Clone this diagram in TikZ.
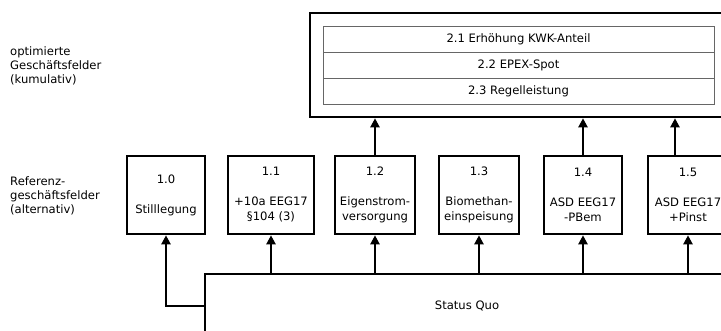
\documentclass[tikz,border=0pt]{standalone}
\usepackage{fontspec}
\setmainfont{DejaVu Sans}
\usetikzlibrary{arrows.meta}
\begin{document}
\begin{tikzpicture}[x=1pt,y=-1pt,
  every node/.style={font=\fontsize{11.6}{15}\selectfont},
  refbox/.style={draw, line width=2.6pt, minimum height=78pt, inner sep=0pt, align=center},
  optbox/.style={draw, line width=2.6pt, inner sep=0pt},
  rowbox/.style={draw=black!60, line width=1pt, minimum width=391pt, minimum height=26pt, inner sep=0pt},
  sqbox/.style={draw, line width=2.6pt, inner sep=0pt},
  lab/.style={align=left, anchor=west, inner sep=0pt, font=\fontsize{11.6}{14.2}\selectfont},
  arr/.style={line width=2.2pt, -{Triangle[length=9pt,width=9pt]}}]
\useasboundingbox (0,0) rectangle (721,330);
\clip (0,0) rectangle (721,330);

% left labels
\node[lab] (l1) at (10,66) {optimierte\\Geschäftsfelder\\(kumulativ)};
\node[lab] (l2) at (10,196) {Referenz-\\geschäftsfelder\\(alternativ)};

% optimized box
\node[optbox, minimum width=440pt, minimum height=104pt] (opt) at (530,65) {};
\node[rowbox] (r1) at (518.5,39) {2.1 Erhöhung KWK-Anteil};
\node[rowbox] (r2) at (518.5,65) {2.2 EPEX-Spot};
\node[rowbox] (r3) at (518.5,91) {2.3 Regelleistung};

% reference boxes
\node[refbox, minimum width=78pt] (b10) at (166,195) {1.0\\[15pt]Stilllegung};
\node[refbox, minimum width=86pt] (b11) at (271,195) {1.1\\[15pt]+10a EEG17\\§104 (3)};
\node[refbox, minimum width=80pt] (b12) at (375,195) {1.2\\[15pt]Eigenstrom-\\versorgung};
\node[refbox, minimum width=80pt] (b13) at (479,195) {1.3\\[15pt]Biomethan-\\einspeisung};
\node[refbox, minimum width=78pt] (b14) at (583,195) {1.4\\[15pt]ASD EEG17\\-PBem};
\node[refbox, minimum width=80pt] (b15) at (688,195) {1.5\\[15pt]ASD EEG17\\+Pinst};

% status quo
\node[sqbox, minimum width=524pt, minimum height=64pt] (sq) at (467,306) {Status Quo};

% arrows from status quo
\draw[arr] (sq.west) -| (b10.south);
\foreach \b in {b11,b12,b13,b14,b15}{
  \draw[arr] (\b.south |- sq.north) -- (\b.south);
}

% arrows to optimized box
\draw[arr] (b12.north) -- (b12.north |- opt.south);
\draw[arr] (b14.north) -- (b14.north |- opt.south);
\draw[arr] ([xshift=-13pt]b15.north) -- ([xshift=-13pt]b15.north |- opt.south);
\end{tikzpicture}
\end{document}
